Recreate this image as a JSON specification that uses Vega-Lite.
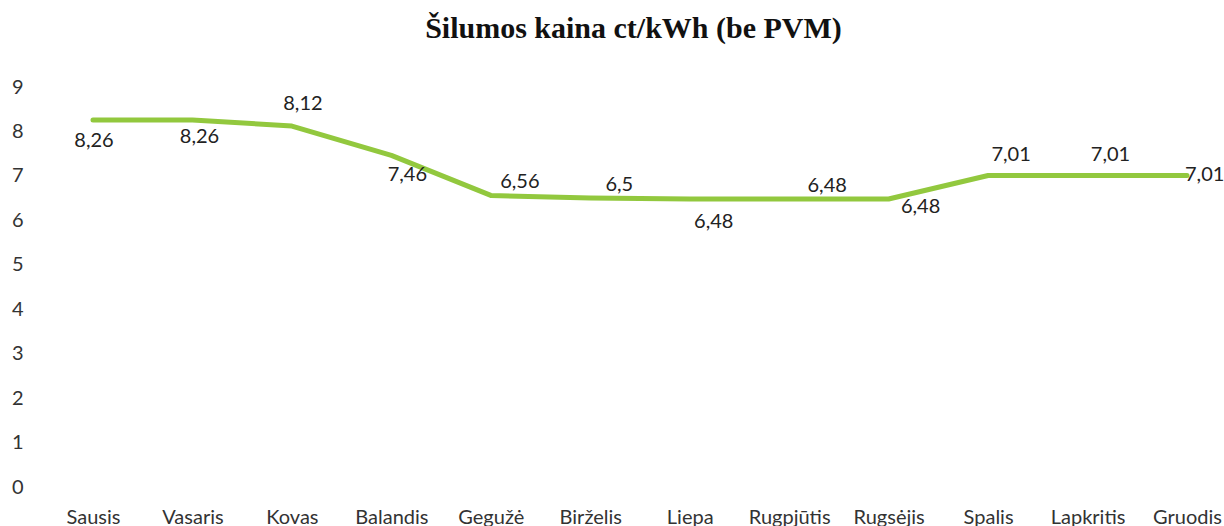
{
  "$schema": "https://vega.github.io/schema/vega-lite/v6.json",
  "width": 1181,
  "height": 400,
  "autosize": {"type": "none"},
  "padding": {"left": 43, "top": 87, "right": 0, "bottom": 39},
  "background": "white",
  "config": {
    "view": {"stroke": null},
    "locale": {"number": {"decimal": ",", "thousands": " ", "grouping": [3], "currency": ["", " €"]}}
  },
  "title": {
    "text": "Šilumos kaina ct/kWh (be PVM)",
    "font": "Liberation Serif",
    "fontSize": 30,
    "fontWeight": "bold",
    "color": "#111111",
    "anchor": "middle",
    "offset": 33
  },
  "data": {
    "values": [
      {"month": "Sausis", "value": 8.26},
      {"month": "Vasaris", "value": 8.26},
      {"month": "Kovas", "value": 8.12},
      {"month": "Balandis", "value": 7.46},
      {"month": "Gegužė", "value": 6.56},
      {"month": "Birželis", "value": 6.5},
      {"month": "Liepa", "value": 6.48},
      {"month": "Rugpjūtis", "value": 6.48},
      {"month": "Rugsėjis", "value": 6.48},
      {"month": "Spalis", "value": 7.01},
      {"month": "Lapkritis", "value": 7.01},
      {"month": "Gruodis", "value": 7.01}
    ]
  },
  "encoding": {
    "x": {
      "field": "month",
      "type": "ordinal",
      "sort": null,
      "scale": {"type": "point", "range": [50, 1144], "padding": 0},
      "axis": {
        "title": null,
        "domain": false,
        "ticks": false,
        "grid": false,
        "labelAngle": 0,
        "labelFont": "Lato",
        "labelFontSize": 20,
        "labelColor": "#333333",
        "labelPadding": 20,
        "labelBaseline": "top"
      }
    },
    "y": {
      "field": "value",
      "type": "quantitative",
      "scale": {"domain": [0, 9], "nice": false, "zero": true},
      "axis": {
        "title": null,
        "domain": false,
        "ticks": false,
        "grid": false,
        "values": [0, 1, 2, 3, 4, 5, 6, 7, 8, 9],
        "labelFont": "Lato",
        "labelFontSize": 20,
        "labelColor": "#333333",
        "labelPadding": 20,
        "labelAlign": "right",
        "labelBaseline": "middle"
      }
    }
  },
  "layer": [
    {
      "mark": {"type": "line", "color": "#92C83E", "strokeWidth": 5, "interpolate": "linear", "strokeJoin": "round", "strokeCap": "round"}
    },
    {
      "transform": [{"filter": {"field": "month", "oneOf": ["Sausis"]}}],
      "mark": {"type": "text", "font": "Lato", "fontSize": 20, "color": "#222222", "baseline": "middle", "align": "center", "dx": 1, "dy": 21},
      "encoding": {"text": {"field": "value", "type": "quantitative", "format": "~g"}}
    },
    {
      "transform": [{"filter": {"field": "month", "oneOf": ["Vasaris"]}}],
      "mark": {"type": "text", "font": "Lato", "fontSize": 20, "color": "#222222", "baseline": "middle", "align": "center", "dx": 7, "dy": 17},
      "encoding": {"text": {"field": "value", "type": "quantitative", "format": "~g"}}
    },
    {
      "transform": [{"filter": {"field": "month", "oneOf": ["Kovas"]}}],
      "mark": {"type": "text", "font": "Lato", "fontSize": 20, "color": "#222222", "baseline": "middle", "align": "center", "dx": 11, "dy": -22},
      "encoding": {"text": {"field": "value", "type": "quantitative", "format": "~g"}}
    },
    {
      "transform": [{"filter": {"field": "month", "oneOf": ["Balandis"]}}],
      "mark": {"type": "text", "font": "Lato", "fontSize": 20, "color": "#222222", "baseline": "middle", "align": "center", "dx": 16, "dy": 20},
      "encoding": {"text": {"field": "value", "type": "quantitative", "format": "~g"}}
    },
    {
      "transform": [{"filter": {"field": "month", "oneOf": ["Gegužė", "Birželis"]}}],
      "mark": {"type": "text", "font": "Lato", "fontSize": 20, "color": "#222222", "baseline": "middle", "align": "center", "dx": 29, "dy": -13},
      "encoding": {"text": {"field": "value", "type": "quantitative", "format": "~g"}}
    },
    {
      "transform": [{"filter": {"field": "month", "oneOf": ["Liepa"]}}],
      "mark": {"type": "text", "font": "Lato", "fontSize": 20, "color": "#222222", "baseline": "middle", "align": "center", "dx": 24, "dy": 23},
      "encoding": {"text": {"field": "value", "type": "quantitative", "format": "~g"}}
    },
    {
      "transform": [{"filter": {"field": "month", "oneOf": ["Rugpjūtis"]}}],
      "mark": {"type": "text", "font": "Lato", "fontSize": 20, "color": "#222222", "baseline": "middle", "align": "center", "dx": 38, "dy": -13},
      "encoding": {"text": {"field": "value", "type": "quantitative", "format": "~g"}}
    },
    {
      "transform": [{"filter": {"field": "month", "oneOf": ["Rugsėjis"]}}],
      "mark": {"type": "text", "font": "Lato", "fontSize": 20, "color": "#222222", "baseline": "middle", "align": "center", "dx": 32, "dy": 8},
      "encoding": {"text": {"field": "value", "type": "quantitative", "format": "~g"}}
    },
    {
      "transform": [{"filter": {"field": "month", "oneOf": ["Spalis", "Lapkritis"]}}],
      "mark": {"type": "text", "font": "Lato", "fontSize": 20, "color": "#222222", "baseline": "middle", "align": "center", "dx": 23, "dy": -20},
      "encoding": {"text": {"field": "value", "type": "quantitative", "format": "~g"}}
    },
    {
      "transform": [{"filter": {"field": "month", "oneOf": ["Gruodis"]}}],
      "mark": {"type": "text", "font": "Lato", "fontSize": 20, "color": "#222222", "baseline": "middle", "align": "left", "dx": -2, "dy": 0},
      "encoding": {"text": {"field": "value", "type": "quantitative", "format": "~g"}}
    }
  ]
}
